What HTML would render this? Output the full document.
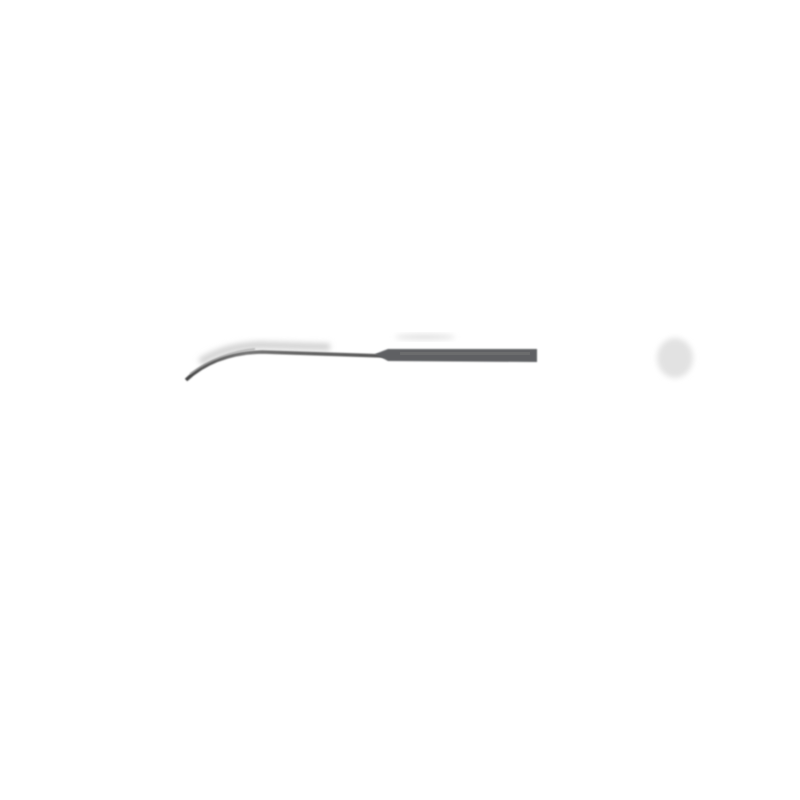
<!DOCTYPE html>
<html><head><meta charset="utf-8"><style>html,body{margin:0;padding:0;background:#fff;width:800px;height:800px;overflow:hidden}</style></head>
<body>
<svg width="800" height="800" viewBox="0 0 800 800" xmlns="http://www.w3.org/2000/svg">
<defs>
<filter id="b" x="-50%" y="-50%" width="200%" height="200%"><feGaussianBlur stdDeviation="3"/></filter>
<filter id="b2" x="-50%" y="-50%" width="200%" height="200%"><feGaussianBlur stdDeviation="0.8"/></filter>
<linearGradient id="g" x1="0" y1="0" x2="1" y2="0">
<stop offset="0" stop-color="#444"/><stop offset="0.3" stop-color="#777"/><stop offset="0.5" stop-color="#666"/><stop offset="1" stop-color="#555"/>
</linearGradient>
</defs>
<path d="M200,362 Q225,346 260,345 L330,347" stroke="#d0d0d0" stroke-width="7" fill="none" filter="url(#b)"/>
<ellipse cx="425" cy="337" rx="30" ry="2.5" fill="#ddd" filter="url(#b)"/>
<path d="M186,380 Q215,353 262,352 L385,356" stroke="url(#g)" stroke-width="3.5" fill="none" filter="url(#b2)"/>
<path d="M190,374 Q220,352 255,349" stroke="#999" stroke-width="2" fill="none" filter="url(#b2)" opacity="0.6"/>
<path d="M375,354 L388,349 L537,349 L537,362 L388,361 Z" fill="#5f6163" filter="url(#b2)"/>
<rect x="400" y="352" width="130" height="3" fill="#777" opacity="0.5"/>
<ellipse cx="675" cy="358" rx="18" ry="20" fill="#e2e2e2" filter="url(#b)"/>
</svg>
</body></html>
